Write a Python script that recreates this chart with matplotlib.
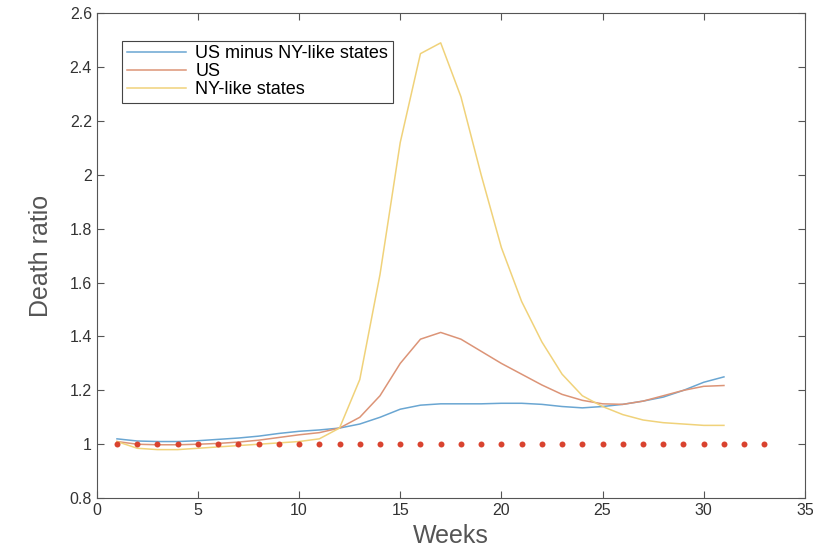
import numpy as np
import matplotlib.pyplot as plt
from matplotlib.ticker import FuncFormatter

plt.rcParams['font.family'] = ['Liberation Sans', 'DejaVu Sans']

weeks = np.arange(1, 32)

us_minus_ny = [1.02, 1.012, 1.01, 1.01, 1.013, 1.018, 1.023, 1.03, 1.04, 1.048,
               1.053, 1.06, 1.075, 1.10, 1.13, 1.145, 1.15, 1.15, 1.15, 1.152,
               1.152, 1.148, 1.14, 1.135, 1.14, 1.148, 1.16, 1.175, 1.20, 1.23, 1.25]
us = [1.01, 1.0, 0.998, 0.998, 1.0, 1.003, 1.008, 1.015, 1.025, 1.035,
      1.043, 1.06, 1.10, 1.18, 1.30, 1.39, 1.415, 1.39, 1.345, 1.30,
      1.26, 1.22, 1.185, 1.163, 1.15, 1.148, 1.16, 1.18, 1.20, 1.215, 1.218]
ny_like = [1.01, 0.985, 0.98, 0.98, 0.985, 0.99, 0.995, 1.0, 1.005, 1.01,
           1.02, 1.06, 1.24, 1.63, 2.12, 2.45, 2.49, 2.29, 2.0, 1.73,
           1.53, 1.38, 1.26, 1.18, 1.14, 1.11, 1.09, 1.08, 1.075, 1.07, 1.07]

baseline_weeks = np.arange(1, 34)
baseline = np.ones(len(baseline_weeks))

fig = plt.figure(figsize=(8.13, 5.51), dpi=100)
ax = fig.add_axes([0.119, 0.096, 0.871, 0.880])

ax.plot(weeks, us_minus_ny, color='#6aa6d2', lw=1.1, label='US minus NY-like states')
ax.plot(weeks, us, color='#dc9477', lw=1.1, label='US')
ax.plot(weeks, ny_like, color='#f0d27a', lw=1.1, label='NY-like states')
ax.plot(baseline_weeks, baseline, linestyle='none', marker='o', ms=4.3,
        color='#d9432f', mec='none')

ax.set_xlim(0, 35)
ax.set_ylim(0.8, 2.6)
ax.set_xticks(np.arange(0, 36, 5))
ax.set_yticks(np.arange(0.8, 2.61, 0.2))
ax.yaxis.set_major_formatter(FuncFormatter(lambda v, p: '%g' % round(v, 1)))
ax.tick_params(direction='in', length=5, top=True, right=True,
               labelsize=11.5, colors='#555555', labelcolor='#333333', width=0.8)
for s in ax.spines.values():
    s.set_color('#555555')
    s.set_linewidth(0.8)

ax.set_xlabel('Weeks', fontsize=18, color='#555555', labelpad=4)
ax.set_ylabel('Death ratio', fontsize=18, color='#555555', labelpad=12)

leg = ax.legend(loc='upper left', bbox_to_anchor=(0.036, 0.943), fontsize=13,
                fancybox=False, framealpha=1, edgecolor='#444444',
                handlelength=3.3, handletextpad=0.5, borderpad=0.25,
                labelspacing=0.05, borderaxespad=0)
leg.get_frame().set_linewidth(0.8)

fig.savefig('out.png', dpi=100)
